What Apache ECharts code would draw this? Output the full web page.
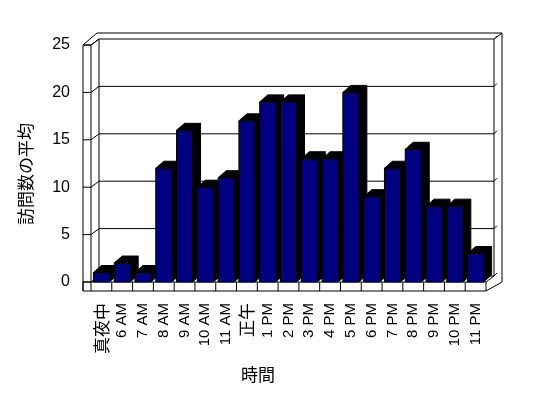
<!DOCTYPE html>
<html>
<head>
<meta charset="utf-8">
<script src="https://cdn.jsdelivr.net/npm/echarts@6.0.0/dist/echarts.min.js"></script>
<style>
html, body { margin:0; padding:0; background:#fff; }
#main { width:548px; height:398px; }
</style>
</head>
<body>
<div id="main"></div>
<script type="text/javascript">
// データ
var hours = ['真夜中', '6 AM', '7 AM', '8 AM', '9 AM', '10 AM', '11 AM', '正午', '1 PM', '2 PM', '3 PM', '4 PM', '5 PM', '6 PM', '7 PM', '8 PM', '9 PM', '10 PM', '11 PM'];
var visits = [1, 2, 1, 12, 16, 10, 11, 17, 19, 19, 13, 13, 20, 9, 12, 14, 8, 8, 3];
var yTicks = [0, 5, 10, 15, 20, 25];

var FONT = "'Liberation Sans', 'Noto Sans CJK JP', sans-serif";
// 3D の奥行き
var DX = 8, DY = 6;        // 壁・床
var BDX = 8, BDY = 7;      // 棒
var WALL = 8, FLOOR = 9;   // 壁と床の厚さ

var myChart = echarts.init(document.getElementById('main'), null, {renderer: 'canvas'});

function line(x1, y1, x2, y2) {
    return {type: 'line', shape: {x1: x1, y1: y1, x2: x2, y2: y2}, style: {stroke: '#000', lineWidth: 1}};
}

// 壁と床
function renderFrame(params, api) {
    var cs = params.coordSys;
    var L = cs.x, T = cs.y, R = cs.x + cs.width, B = cs.y + cs.height;
    var band = cs.width / hours.length;
    var c = [];
    // 床の前面
    c.push({type: 'rect', shape: {x: L - WALL, y: B, width: R - L + WALL, height: FLOOR}, style: {fill: '#fff', stroke: '#000', lineWidth: 1}});
    for (var k = 1; k < hours.length; k++) {
        c.push(line(L + k * band, B, L + k * band, B + FLOOR));
    }
    // 左の壁
    c.push(line(L - WALL, T, L - WALL, B + FLOOR));
    c.push(line(L, T, L, B + FLOOR));
    c.push(line(L - WALL, T, L, T));
    // 外側の輪郭
    c.push({type: 'polyline', shape: {points: [[L - WALL, T], [L - WALL + 14, T - 12], [R + 2 * DX, T - 12], [R + 2 * DX, B], [R, B + FLOOR]]}, style: {stroke: '#000', fill: null, lineWidth: 1}});
    // 内側
    c.push(line(L, T, L + DX, T - DY));
    c.push(line(L + DX, T - DY, L + DX, B - DY));
    c.push(line(R + DX, T - DY, R + DX, B - DY));
    c.push(line(R + DX, T - DY, R + 2 * DX, T - 12));
    c.push(line(R + DX, B - DY, R, B));
    return {type: 'group', children: c};
}

// 目盛線
function renderTick(params, api) {
    var cs = params.coordSys;
    var L = cs.x, R = cs.x + cs.width;
    var y = api.coord([0, api.value(1)])[1];
    return {type: 'group', children: [
        line(L - WALL, y, L, y),
        line(L, y, L + DX, y - DY),
        line(L + DX, y - DY, R + DX, y - DY),
        line(R + DX, y - DY, R + DX + 3, y - DY - 3)
    ]};
}

// 3D 棒
function renderBar(params, api) {
    var i = api.value(0), v = api.value(1);
    var top = api.coord([i, v]);
    var base = api.coord([i, 0]);
    var bw = api.size([1, 0])[0] * 0.77;
    var x0 = top[0] - bw / 2, x1 = top[0] + bw / 2, yt = top[1], yb = base[1];
    return {type: 'group', children: [
        {type: 'polygon', shape: {points: [[x1, yt], [x1 + BDX, yt - BDY], [x1 + BDX, yb - BDY], [x1, yb]]}, style: {fill: '#000', stroke: '#000'}},
        {type: 'polygon', shape: {points: [[x0, yt], [x0 + BDX, yt - BDY], [x1 + BDX, yt - BDY], [x1, yt]]}, style: {fill: '#000', stroke: '#000'}},
        {type: 'rect', shape: {x: x0, y: yt, width: bw, height: yb - yt}, style: {fill: '#000080', stroke: '#000', lineWidth: 1}}
    ]};
}

var option = {
    animation: false,
    grid: {left: 91, top: 45, width: 395, height: 237},
    xAxis: {
        type: 'category',
        data: hours,
        axisLine: {show: false},
        axisTick: {show: false},
        splitLine: {show: false},
        axisLabel: {
            rotate: 90, margin: 21, fontSize: 15, color: '#000', fontFamily: FONT, interval: 0,
            // 日本語のラベルは少し大きく
            formatter: function (v) { return /[^\x00-\x7f]/.test(v) ? '{j|' + v + '}' : v; },
            rich: {j: {fontSize: 17, fontFamily: "'Noto Sans CJK JP'", color: '#000'}}
        }
    },
    yAxis: {
        type: 'value',
        min: 0, max: 25, interval: 5,
        axisLine: {show: false},
        axisTick: {show: false},
        splitLine: {show: false},
        axisLabel: {margin: 21, fontSize: 16, color: '#000', fontFamily: FONT}
    },
    graphic: [
        {type: 'text', x: 27, y: 174, rotation: Math.PI / 2,
         style: {text: '訪問数の平均', fontSize: 17, fontFamily: FONT, fill: '#000', align: 'center', verticalAlign: 'middle'}},
        {type: 'text', x: 258, y: 376,
         style: {text: '時間', fontSize: 17, fontFamily: FONT, fill: '#000', align: 'center', verticalAlign: 'middle'}}
    ],
    series: [
        {type: 'custom', name: 'frame', z: 1, silent: true, renderItem: renderFrame, data: [[0, 0]]},
        {type: 'custom', name: 'ticks', z: 2, silent: true, renderItem: renderTick,
         data: yTicks.map(function (v) { return [0, v]; })},
        {type: 'custom', name: '訪問数の平均', z: 3, renderItem: renderBar,
         data: visits.map(function (v, i) { return [i, v]; })}
    ]
};
myChart.setOption(option);
</script>
</body>
</html>
